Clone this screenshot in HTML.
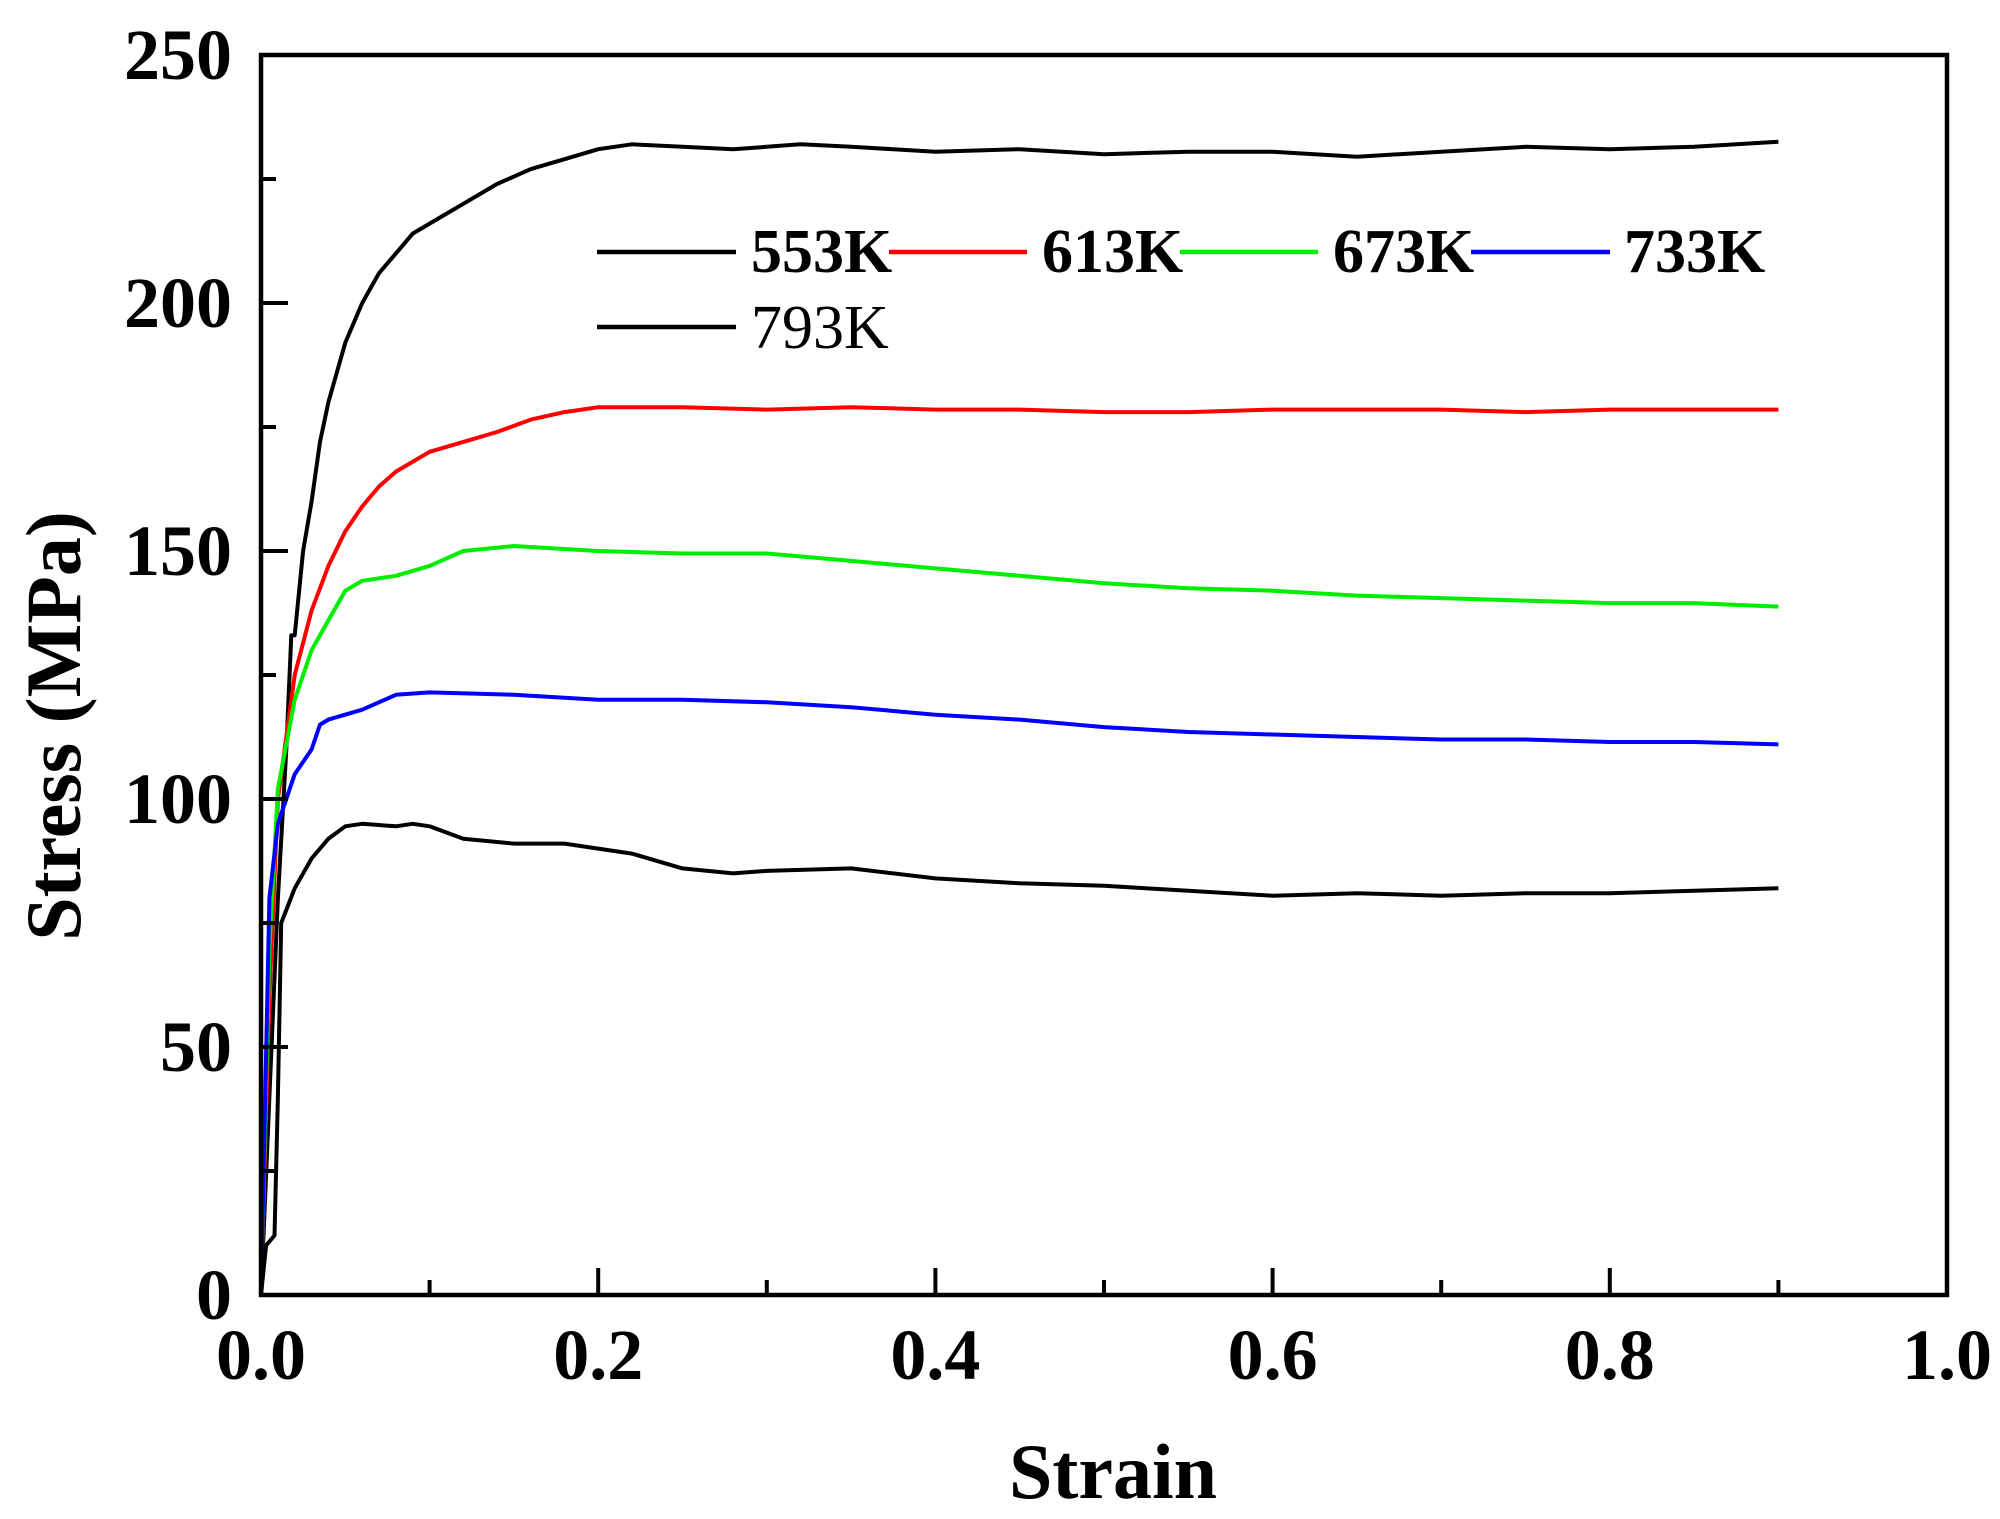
<!DOCTYPE html>
<html><head><meta charset="utf-8"><style>
html,body{margin:0;padding:0;background:#fff}
svg{display:block}
text{font-family:"Liberation Serif",serif}
</style></head><body>
<svg id="chart" width="2000" height="1519" viewBox="0 0 2000 1519" xmlns="http://www.w3.org/2000/svg">
<g id="series"></g>
<rect x="261" y="55" width="1686" height="1240" fill="none" stroke="#000" stroke-width="4.5"/>
<g id="ticks"></g>
<text x="1113" y="1498" font-size="78" font-weight="bold" text-anchor="middle">Strain</text>
<text transform="translate(80,726) rotate(-90)" font-size="78" font-weight="bold" text-anchor="middle">Stress (MPa)</text>
<g>
<line x1="597" y1="252" x2="736" y2="252" stroke="#000" stroke-width="4.5"/>
<text x="751" y="272" font-size="62" font-weight="bold">553K</text>
<line x1="889" y1="252" x2="1027" y2="252" stroke="#ff0000" stroke-width="4.5"/>
<text x="1042" y="272" font-size="62" font-weight="bold">613K</text>
<line x1="1180" y1="252" x2="1318" y2="252" stroke="#00ee00" stroke-width="4.5"/>
<text x="1333" y="272" font-size="62" font-weight="bold">673K</text>
<line x1="1471" y1="252" x2="1610" y2="252" stroke="#0000ff" stroke-width="4.5"/>
<text x="1624" y="272" font-size="62" font-weight="bold">733K</text>
<line x1="597" y1="327" x2="736" y2="327" stroke="#000" stroke-width="4.5"/>
<text x="751" y="348" font-size="62">793K</text>
</g>
</svg>
<script>
const xTicks = [0, 0.2, 0.4, 0.6, 0.8, 1.0];
const xTickLabels = ["0.0", "0.2", "0.4", "0.6", "0.8", "1.0"];
const yTicks = [0, 50, 100, 150, 200, 250];
const yTickLabels = ["0", "50", "100", "150", "200", "250"];
const strain553 = [0,0.005,0.01,0.015,0.018,0.02,0.025,0.03,0.035,0.04,0.05,0.06,0.07,0.08,0.09,0.1,0.12,0.14,0.16,0.18,0.2,0.22,0.25,0.28,0.3,0.32,0.35,0.4,0.45,0.5,0.55,0.6,0.65,0.7,0.75,0.8,0.85,0.9];
const stress553 = [0,40,80,110,133,133,150,160,172,180,192,200,206,210,214,216,220,224,227,229,231,232,231.5,231,231.5,232,231.5,230.5,231,230,230.5,230.5,229.5,230.5,231.5,231,231.5,232.5];
const strain613 = [0,0.005,0.01,0.02,0.03,0.04,0.05,0.06,0.07,0.08,0.1,0.12,0.14,0.16,0.18,0.2,0.25,0.3,0.35,0.4,0.45,0.5,0.55,0.6,0.65,0.7,0.75,0.8,0.85,0.9];
const stress613 = [0,60,100,125,138,147,154,159,163,166,170,172,174,176.5,178,179,179,178.5,179,178.5,178.5,178,178,178.5,178.5,178.5,178,178.5,178.5,178.5];
const strain673 = [0,0.005,0.01,0.02,0.03,0.04,0.05,0.06,0.08,0.1,0.12,0.15,0.2,0.25,0.3,0.35,0.4,0.45,0.5,0.55,0.6,0.65,0.7,0.75,0.8,0.85,0.9];
const stress673 = [0,70,102,120,130,136,142,144,145,147,150,151,150,149.5,149.5,148,146.5,145,143.5,142.5,142,141,140.5,140,139.5,139.5,138.8];
const strain733 = [0,0.005,0.01,0.02,0.03,0.035,0.04,0.06,0.08,0.1,0.15,0.2,0.25,0.3,0.35,0.4,0.45,0.5,0.55,0.6,0.65,0.7,0.75,0.8,0.85,0.9];
const stress733 = [0,80,95,105,110,115,116,118,121,121.5,121,120,120,119.5,118.5,117,116,114.5,113.5,113,112.5,112,112,111.5,111.5,111];
const strain793 = [0,0.003,0.008,0.01,0.012,0.02,0.03,0.04,0.05,0.06,0.08,0.09,0.1,0.12,0.15,0.18,0.2,0.22,0.25,0.28,0.3,0.35,0.4,0.45,0.5,0.55,0.6,0.65,0.7,0.75,0.8,0.85,0.9];
const stress793 = [0,10,12,40,75,82,88,92,94.5,95,94.5,95,94.5,92,91,91,90,89,86,85,85.5,86,84,83,82.5,81.5,80.5,81,80.5,81,81,81.5,82];

const X0 = 261, X1 = 1947, Y0 = 1295, Y1 = 55;
function xs(v){ return X0 + (v - 0) / (1.0 - 0) * (X1 - X0); }
function ys(v){ return Y0 - (v - 0) / (250 - 0) * (Y0 - Y1); }
const NS = "http://www.w3.org/2000/svg";
const seriesG = document.getElementById('series');
const ticksG = document.getElementById('ticks');

function drawSeries(xsArr, ysArr, color, name){
  const p = document.createElementNS(NS, 'polyline');
  p.setAttribute('points', xsArr.map((x,i)=>xs(x).toFixed(1)+','+ys(ysArr[i]).toFixed(1)).join(' '));
  p.setAttribute('fill','none');
  p.setAttribute('stroke',color);
  p.setAttribute('stroke-width','4');
  p.setAttribute('stroke-linejoin','round');
  
  
  seriesG.appendChild(p);
}
drawSeries(strain553, stress553, '#000', 'series-553k');
drawSeries(strain613, stress613, '#ff0000', 'series-613k');
drawSeries(strain673, stress673, '#00ee00', 'series-673k');
drawSeries(strain733, stress733, '#0000ff', 'series-733k');
drawSeries(strain793, stress793, '#000', 'series-793k');

function addLine(x1,y1,x2,y2,name){
  const l = document.createElementNS(NS,'line');
  l.setAttribute('x1',x1); l.setAttribute('y1',y1); l.setAttribute('x2',x2); l.setAttribute('y2',y2);
  l.setAttribute('stroke','#000'); l.setAttribute('stroke-width','4');
  
  
  ticksG.appendChild(l);
}
function addText(x,y,s,anchor,name){
  const t = document.createElementNS(NS,'text');
  t.setAttribute('x',x); t.setAttribute('y',y);
  t.setAttribute('font-size','72'); t.setAttribute('font-weight','bold');
  t.setAttribute('text-anchor',anchor);
  t.textContent = s;
  
  
  ticksG.appendChild(t);
}
xTicks.forEach((v,i)=>{
  addLine(xs(v), Y0, xs(v), Y0-27, 'x-major-tick');
  addText(xs(v), 1379, xTickLabels[i], 'middle', 'x-tick-label');
  if(i < xTicks.length-1){
    const m = (v + xTicks[i+1]) / 2;
    addLine(xs(m), Y0, xs(m), Y0-15, 'x-minor-tick');
  }
});
yTicks.forEach((v,i)=>{
  addLine(X0, ys(v), X0+27, ys(v), 'y-major-tick');
  addText(232, ys(v)+24, yTickLabels[i], 'end', 'y-tick-label');
  if(i < yTicks.length-1){
    const m = (v + yTicks[i+1]) / 2;
    addLine(X0, ys(m), X0+15, ys(m), 'y-minor-tick');
  }
});
</script>
</body></html>
